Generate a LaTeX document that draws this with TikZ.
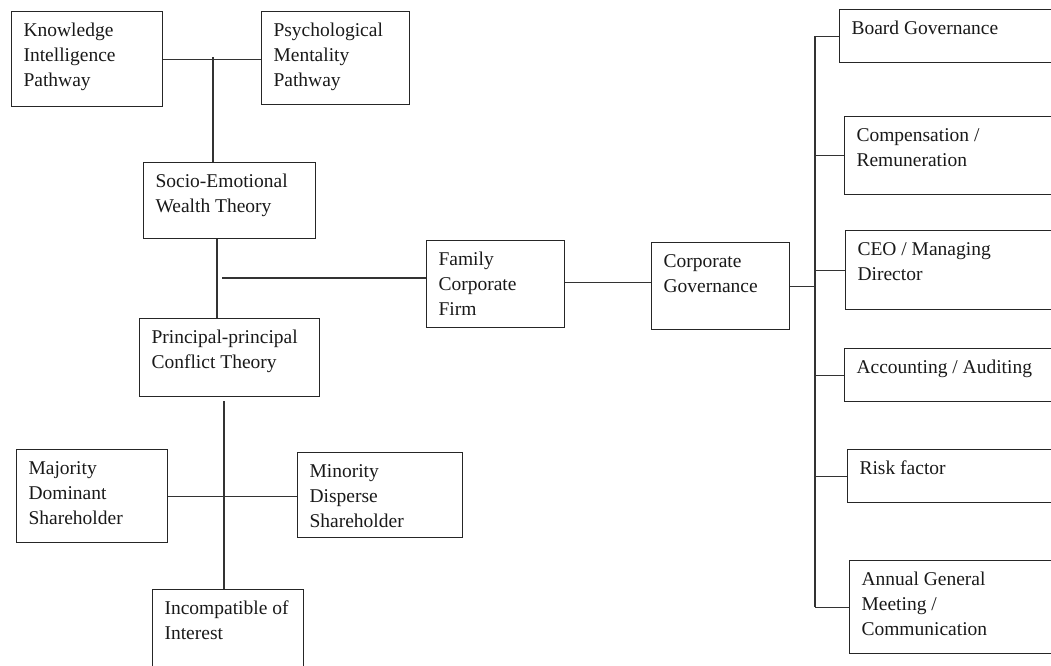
\documentclass[tikz,border=0pt]{standalone}
\usepackage{fontspec}
\setmainfont{Liberation Serif}
\usetikzlibrary{calc}

% box text: width, height, lines
\newcommand{\cell}[3]{\parbox[c][#2pt][t]{\dimexpr #1pt-24pt\relax}{\raggedright\rule{0pt}{25pt}#3}}

\begin{document}
\begin{tikzpicture}%
	[	x=1pt,
	y=-1pt,
	font=\fontsize{19.5}{25}\selectfont,
	box/.style={draw=black!85, line width=1.1pt, anchor=north west, inner xsep=12pt, inner ysep=0pt, text=black!90},
	link/.style={draw=black!80, line width=1.1pt}]

\useasboundingbox (0,0) rectangle (1051,665);
\clip (0,0) rectangle (1051,665);

% left tree
\node[box] (kip) at (11,11) {\cell{151}{95}{Knowledge\\Intelligence\\Pathway}};
\node[box] (pmp) at (261,11) {\cell{148}{93}{Psychological\\Mentality\\Pathway}};
\node[box] (sewt) at (143,162) {\cell{172}{76}{Socio-Emotional\\Wealth Theory}};
\node[box] (ppct) at (139,318) {\cell{180}{78}{Principal-principal\\Conflict Theory}};
\node[box] (mds) at (16,449) {\cell{151}{93}{Majority\\Dominant\\Shareholder}};
\node[box] (mids) at (297,452) {\cell{165}{85}{Minority\\Disperse\\Shareholder}};
\node[box] (ioi) at (152,589) {\cell{151}{111}{Incompatible of\\Interest}};

% middle
\node[box] (fcf) at (426,240) {\cell{138}{87}{Family\\Corporate\\Firm}};
\node[box] (cg) at (651,242) {\cell{138}{87}{Corporate\\Governance}};

% right column
\node[box] (bg) at (839,9) {\cell{231}{53}{Board Governance}};
\node[box] (cr) at (844,116) {\cell{226}{78}{Compensation /\\Remuneration}};
\node[box] (ceo) at (845,230) {\cell{225}{79}{CEO / Managing\\Director}};
\node[box] (aa) at (844,348) {\cell{226}{53}{Accounting / Auditing}};
\node[box] (rf) at (847,449) {\cell{223}{53}{Risk factor}};
\node[box] (agm) at (849,560) {\cell{221}{93}{Annual General\\Meeting /\\Communication}};

\coordinate (j1) at (213,57);
\coordinate (j2) at (217,278);
\coordinate (j3) at (224,496);
\coordinate (bus) at (815,281);

\draw[link] (kip.east) -- (kip.east -| pmp.west);
\draw[link] (j1) -- (j1 |- sewt.north);
\draw[link] (j2 |- sewt.south) -- (j2 |- ppct.north);
\draw[link] ([xshift=5pt]j2) -- (j2 -| fcf.west);
\draw[link] ([yshift=2pt]fcf.east) -- ([yshift=2pt]fcf.east -| cg.west);
\draw[link] (cg.east) -- (cg.east -| bus);
\draw[link] ([yshift=-4pt]j3 |- ppct.south) -- (j3 |- ioi.north);
\draw[link] (mds.east) -- (mds.east -| mids.west);

\draw[link] (bus |- bg.west) -- (bus |- agm.west);
\foreach \n in {bg,cr,ceo,aa,rf,agm}
	\draw[link] (bus |- \n.west) -- (\n.west);
\end{tikzpicture}
\end{document}
